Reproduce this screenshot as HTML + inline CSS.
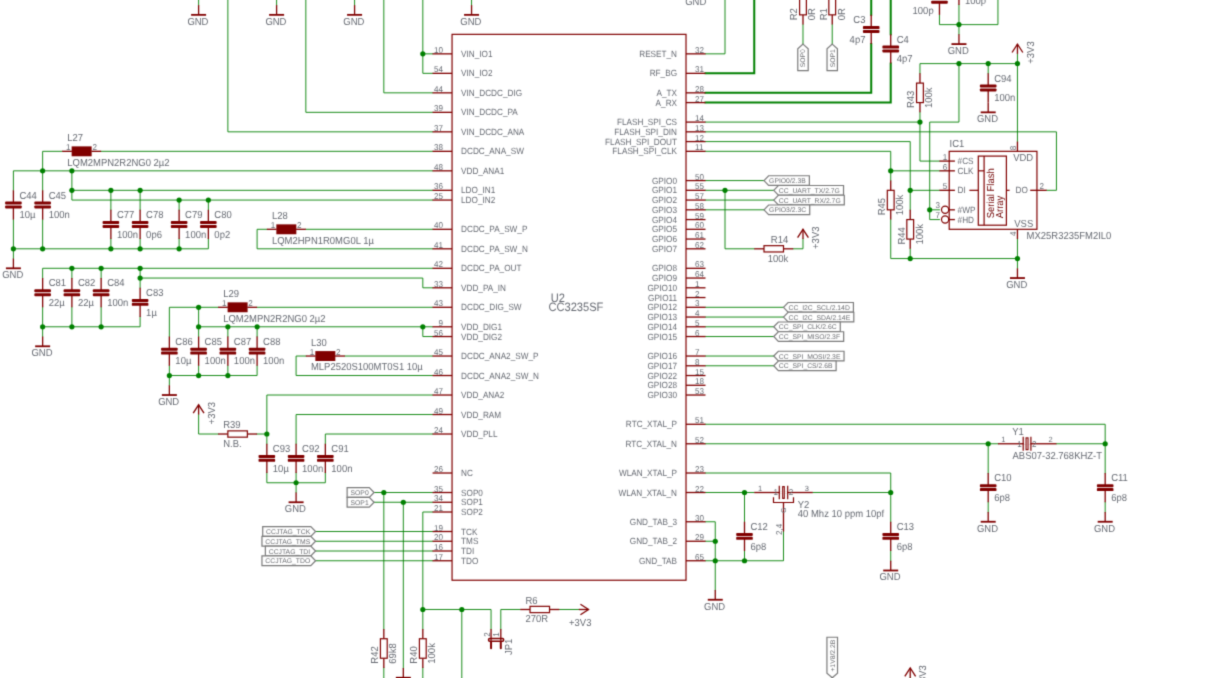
<!DOCTYPE html>
<html><head><meta charset="utf-8"><title>Schematic</title>
<style>
html,body{margin:0;padding:0;background:#fff;}
body{width:1230px;height:678px;overflow:hidden;}
svg{display:block;}
svg text{font-family:"Liberation Sans",sans-serif;text-rendering:geometricPrecision;}
.nl{stroke:#7a7a7a;stroke-width:1.2;fill:#fff;}
</style></head><body>
<svg width="1230" height="678" viewBox="0 0 1230 678">
<defs><filter id="bl" x="0" y="0" width="1230" height="678" filterUnits="userSpaceOnUse" color-interpolation-filters="sRGB"><feConvolveMatrix order="3" kernelMatrix="0.0225 0.1050 0.0225 0.1050 0.4900 0.1050 0.0225 0.1050 0.0225" edgeMode="duplicate"/></filter></defs><rect width="1230" height="678" fill="#fff"/><g filter="url(#bl)">
<g fill="none" stroke="#008000" stroke-linecap="square" stroke-linejoin="miter">
<polyline points="198.61,-14.39 198.61,5.11" stroke-width="0.9"/>
<polyline points="276.6,-14.39 276.6,5.11" stroke-width="0.9"/>
<polyline points="354.58,-14.39 354.58,5.11" stroke-width="0.9"/>
<polyline points="471.56,-14.39 471.56,5.11" stroke-width="0.9"/>
<polyline points="227.86,-14.39 227.86,131.83 432.56,131.83" stroke-width="0.9"/>
<polyline points="305.84,-14.39 305.84,112.34 432.56,112.34" stroke-width="0.9"/>
<polyline points="383.82,-14.39 383.82,92.84 432.56,92.84" stroke-width="0.9"/>
<polyline points="422.82,-14.39 422.82,73.35 432.56,73.35" stroke-width="0.9"/>
<polyline points="422.82,53.85 432.56,53.85" stroke-width="0.9"/>
<polyline points="432.56,151.33 101.13,151.33" stroke-width="0.9"/>
<polyline points="62.14,151.33 42.64,151.33 42.64,190.32" stroke-width="0.9"/>
<polyline points="432.56,170.83 13.4,170.83 13.4,190.32" stroke-width="0.9"/>
<polyline points="13.4,219.57 13.4,258.56" stroke-width="0.9"/>
<polyline points="42.64,219.57 42.64,248.81" stroke-width="0.9"/>
<polyline points="13.4,248.81 208.36,248.81 208.36,239.06" stroke-width="0.9"/>
<polyline points="432.56,190.32 71.89,190.32" stroke-width="0.9"/>
<polyline points="432.56,200.07 71.89,200.07 71.89,170.83" stroke-width="0.9"/>
<polyline points="110.88,190.32 110.88,209.82" stroke-width="0.9"/>
<polyline points="140.12,190.32 140.12,209.82" stroke-width="0.9"/>
<polyline points="179.12,200.07 179.12,209.82" stroke-width="0.9"/>
<polyline points="208.36,200.07 208.36,209.82" stroke-width="0.9"/>
<polyline points="110.88,239.06 110.88,248.81" stroke-width="0.9"/>
<polyline points="140.12,239.06 140.12,248.81" stroke-width="0.9"/>
<polyline points="179.12,239.06 179.12,248.81" stroke-width="0.9"/>
<polyline points="432.56,229.31 305.84,229.31" stroke-width="0.9"/>
<polyline points="266.85,229.31 257.1,229.31 257.1,248.81 432.56,248.81" stroke-width="0.9"/>
<polyline points="432.56,268.31 42.64,268.31 42.64,278.05" stroke-width="0.9"/>
<polyline points="71.89,268.31 71.89,278.05" stroke-width="0.9"/>
<polyline points="101.13,268.31 101.13,278.05" stroke-width="0.9"/>
<polyline points="432.56,287.8 422.82,287.8 422.82,278.05 140.12,278.05" stroke-width="0.9"/>
<polyline points="140.12,268.31 140.12,287.8" stroke-width="0.9"/>
<polyline points="42.64,307.3 42.64,336.54" stroke-width="0.9"/>
<polyline points="71.89,307.3 71.89,326.79" stroke-width="0.9"/>
<polyline points="101.13,307.3 101.13,326.79" stroke-width="0.9"/>
<polyline points="42.64,326.79 140.12,326.79 140.12,317.05" stroke-width="0.9"/>
<polyline points="432.56,307.3 257.1,307.3" stroke-width="0.9"/>
<polyline points="218.11,307.3 169.37,307.3 169.37,336.54" stroke-width="0.9"/>
<polyline points="198.61,307.3 198.61,336.54" stroke-width="0.9"/>
<polyline points="432.56,326.79 198.61,326.79" stroke-width="0.9"/>
<polyline points="227.86,326.79 227.86,336.54" stroke-width="0.9"/>
<polyline points="257.1,326.79 257.1,336.54" stroke-width="0.9"/>
<polyline points="432.56,336.54 422.82,336.54 422.82,326.79" stroke-width="0.9"/>
<polyline points="169.37,365.79 169.37,385.28" stroke-width="0.9"/>
<polyline points="198.61,365.79 198.61,375.53" stroke-width="0.9"/>
<polyline points="227.86,365.79 227.86,375.53" stroke-width="0.9"/>
<polyline points="169.37,375.53 257.1,375.53 257.1,365.79" stroke-width="0.9"/>
<polyline points="432.56,356.04 344.83,356.04" stroke-width="0.9"/>
<polyline points="305.84,356.04 296.09,356.04 296.09,375.53 432.56,375.53" stroke-width="0.9"/>
<polyline points="432.56,395.03 266.85,395.03 266.85,443.77" stroke-width="0.9"/>
<polyline points="432.56,414.53 296.09,414.53 296.09,443.77" stroke-width="0.9"/>
<polyline points="432.56,434.02 325.34,434.02 325.34,443.77" stroke-width="0.9"/>
<polyline points="266.85,473.01 266.85,482.76 325.34,482.76 325.34,473.01" stroke-width="0.9"/>
<polyline points="296.09,473.01 296.09,492.51" stroke-width="0.9"/>
<polyline points="198.61,414.53 198.61,434.02 218.11,434.02" stroke-width="0.9"/>
<polyline points="257.1,434.02 266.85,434.02" stroke-width="0.9"/>
<polyline points="374.08,492.51 432.56,492.51" stroke-width="0.9"/>
<polyline points="374.08,502.26 432.56,502.26" stroke-width="0.9"/>
<polyline points="383.82,492.51 383.82,628.98" stroke-width="0.9"/>
<polyline points="383.82,667.97 383.82,736.21" stroke-width="0.9"/>
<polyline points="403.32,502.26 403.32,667.97" stroke-width="0.9"/>
<polyline points="432.56,512.01 422.82,512.01 422.82,628.98" stroke-width="0.9"/>
<polyline points="422.82,667.97 422.82,736.21" stroke-width="0.9"/>
<polyline points="422.82,609.49 491.05,609.49 491.05,628.98" stroke-width="0.9"/>
<polyline points="461.81,609.49 461.81,736.21" stroke-width="0.9"/>
<polyline points="500.8,628.98 500.8,609.49 520.3,609.49" stroke-width="0.9"/>
<polyline points="559.29,609.49 578.78,609.49" stroke-width="0.9"/>
<polyline points="315.59,531.5 432.56,531.5" stroke-width="0.9"/>
<polyline points="315.59,541.25 432.56,541.25" stroke-width="0.9"/>
<polyline points="315.59,551 432.56,551" stroke-width="0.9"/>
<polyline points="315.59,560.75 432.56,560.75" stroke-width="0.9"/>
<polyline points="705.51,53.85 725,53.85 725,-14.39" stroke-width="0.9"/>
<polyline points="705.51,73.35 754.25,73.35 754.25,-14.39" stroke-width="2"/>
<polyline points="705.51,92.84 871.22,92.84 871.22,44.1" stroke-width="2"/>
<polyline points="871.22,14.86 871.22,-14.39" stroke-width="2"/>
<polyline points="705.51,102.59 890.72,102.59 890.72,63.6" stroke-width="2"/>
<polyline points="890.72,34.35 890.72,-14.39" stroke-width="2"/>
<polyline points="802.99,24.61 802.99,44.1" stroke-width="0.9"/>
<polyline points="832.23,24.61 832.23,44.1" stroke-width="0.9"/>
<polyline points="939.46,14.86 939.46,24.61 997.95,24.61 997.95,-14.39" stroke-width="0.9"/>
<polyline points="958.96,5.11 958.96,34.35" stroke-width="0.9"/>
<polyline points="919.96,73.35 919.96,63.6 1017.44,63.6" stroke-width="0.9"/>
<polyline points="1017.44,53.85 1017.44,63.6" stroke-width="0.9"/>
<polyline points="988.2,63.6 988.2,73.35" stroke-width="0.9"/>
<polyline points="1017.44,63.6 1017.44,141.58" stroke-width="0.9"/>
<polyline points="958.96,63.6 958.96,122.09 929.71,122.09 929.71,219.57 939.46,219.57" stroke-width="0.9"/>
<polyline points="929.71,209.82 939.46,209.82" stroke-width="0.9"/>
<polyline points="705.51,122.09 919.96,122.09" stroke-width="0.9"/>
<polyline points="919.96,112.34 919.96,122.09 919.96,161.08 939.46,161.08" stroke-width="0.9"/>
<polyline points="705.51,131.83 1056.44,131.83 1056.44,190.32 1046.69,190.32" stroke-width="0.9"/>
<polyline points="705.51,141.58 910.22,141.58 910.22,209.82" stroke-width="0.9"/>
<polyline points="910.22,190.32 939.46,190.32" stroke-width="0.9"/>
<polyline points="705.51,151.33 890.72,151.33 890.72,180.57" stroke-width="0.9"/>
<polyline points="890.72,170.83 939.46,170.83" stroke-width="0.9"/>
<polyline points="890.72,219.57 890.72,258.56 1017.44,258.56" stroke-width="0.9"/>
<polyline points="910.22,248.81 910.22,258.56" stroke-width="0.9"/>
<polyline points="1017.44,239.06 1017.44,268.31" stroke-width="0.9"/>
<polyline points="705.51,180.57 764,180.57" stroke-width="0.9"/>
<polyline points="705.51,190.32 773.74,190.32" stroke-width="0.9"/>
<polyline points="705.51,200.07 773.74,200.07" stroke-width="0.9"/>
<polyline points="705.51,209.82 764,209.82" stroke-width="0.9"/>
<polyline points="725,190.32 725,248.81 754.25,248.81" stroke-width="0.9"/>
<polyline points="793.24,248.81 802.99,248.81 802.99,239.06" stroke-width="0.9"/>
<polyline points="705.51,307.3 783.49,307.3" stroke-width="0.9"/>
<polyline points="705.51,317.05 783.49,317.05" stroke-width="0.9"/>
<polyline points="705.51,326.79 773.74,326.79" stroke-width="0.9"/>
<polyline points="705.51,336.54 773.74,336.54" stroke-width="0.9"/>
<polyline points="705.51,356.04 773.74,356.04" stroke-width="0.9"/>
<polyline points="705.51,365.79 773.74,365.79" stroke-width="0.9"/>
<polyline points="705.51,424.27 1105.18,424.27 1105.18,473.01" stroke-width="0.9"/>
<polyline points="1105.18,502.26 1105.18,512.01" stroke-width="0.9"/>
<polyline points="705.51,443.77 997.95,443.77" stroke-width="0.9"/>
<polyline points="988.2,443.77 988.2,473.01" stroke-width="0.9"/>
<polyline points="988.2,502.26 988.2,512.01" stroke-width="0.9"/>
<polyline points="1056.44,443.77 1105.18,443.77" stroke-width="0.9"/>
<polyline points="705.51,473.01 890.72,473.01 890.72,521.75" stroke-width="0.9"/>
<polyline points="890.72,551 890.72,560.75" stroke-width="0.9"/>
<polyline points="705.51,492.51 754.25,492.51" stroke-width="0.9"/>
<polyline points="744.5,492.51 744.5,521.75" stroke-width="0.9"/>
<polyline points="744.5,551 744.5,560.75" stroke-width="0.9"/>
<polyline points="812.74,492.51 890.72,492.51" stroke-width="0.9"/>
<polyline points="783.49,531.5 783.49,560.75 715.26,560.75" stroke-width="0.9"/>
<polyline points="705.51,521.75 715.26,521.75 715.26,589.99" stroke-width="0.9"/>
<polyline points="705.51,541.25 715.26,541.25" stroke-width="0.9"/>
<polyline points="705.51,560.75 715.26,560.75" stroke-width="0.9"/>
<polyline points="832.23,677.72 832.23,736.21" stroke-width="0.9"/>
<polyline points="910.22,677.72 910.22,736.21" stroke-width="0.9"/>
</g>
<g fill="#008000" stroke="none">
<circle cx="422.82" cy="53.85" r="2.6"/>
<circle cx="42.64" cy="170.83" r="2.6"/>
<circle cx="71.89" cy="170.83" r="2.6"/>
<circle cx="13.4" cy="248.81" r="2.6"/>
<circle cx="42.64" cy="248.81" r="2.6"/>
<circle cx="110.88" cy="248.81" r="2.6"/>
<circle cx="140.12" cy="248.81" r="2.6"/>
<circle cx="179.12" cy="248.81" r="2.6"/>
<circle cx="71.89" cy="190.32" r="2.6"/>
<circle cx="110.88" cy="190.32" r="2.6"/>
<circle cx="140.12" cy="190.32" r="2.6"/>
<circle cx="179.12" cy="200.07" r="2.6"/>
<circle cx="208.36" cy="200.07" r="2.6"/>
<circle cx="71.89" cy="268.31" r="2.6"/>
<circle cx="101.13" cy="268.31" r="2.6"/>
<circle cx="140.12" cy="268.31" r="2.6"/>
<circle cx="140.12" cy="278.05" r="2.6"/>
<circle cx="42.64" cy="326.79" r="2.6"/>
<circle cx="71.89" cy="326.79" r="2.6"/>
<circle cx="101.13" cy="326.79" r="2.6"/>
<circle cx="198.61" cy="307.3" r="2.6"/>
<circle cx="198.61" cy="326.79" r="2.6"/>
<circle cx="227.86" cy="326.79" r="2.6"/>
<circle cx="257.1" cy="326.79" r="2.6"/>
<circle cx="422.82" cy="326.79" r="2.6"/>
<circle cx="169.37" cy="375.53" r="2.6"/>
<circle cx="198.61" cy="375.53" r="2.6"/>
<circle cx="227.86" cy="375.53" r="2.6"/>
<circle cx="266.85" cy="434.02" r="2.6"/>
<circle cx="296.09" cy="482.76" r="2.6"/>
<circle cx="383.82" cy="492.51" r="2.6"/>
<circle cx="403.32" cy="502.26" r="2.6"/>
<circle cx="422.82" cy="609.49" r="2.6"/>
<circle cx="461.81" cy="609.49" r="2.6"/>
<circle cx="958.96" cy="24.61" r="2.6"/>
<circle cx="958.96" cy="63.6" r="2.6"/>
<circle cx="988.2" cy="63.6" r="2.6"/>
<circle cx="1017.44" cy="63.6" r="2.6"/>
<circle cx="929.71" cy="209.82" r="2.6"/>
<circle cx="919.96" cy="122.09" r="2.6"/>
<circle cx="910.22" cy="190.32" r="2.6"/>
<circle cx="890.72" cy="170.83" r="2.6"/>
<circle cx="910.22" cy="258.56" r="2.6"/>
<circle cx="1017.44" cy="258.56" r="2.6"/>
<circle cx="725" cy="190.32" r="2.6"/>
<circle cx="988.2" cy="443.77" r="2.6"/>
<circle cx="1105.18" cy="443.77" r="2.6"/>
<circle cx="890.72" cy="492.51" r="2.6"/>
<circle cx="744.5" cy="492.51" r="2.6"/>
<circle cx="744.5" cy="560.75" r="2.6"/>
<circle cx="715.26" cy="560.75" r="2.6"/>
<circle cx="715.26" cy="541.25" r="2.6"/>
</g>
<g stroke="#800000" stroke-width="1.3" stroke-linecap="butt">
<line x1="432.56" y1="53.85" x2="452.06" y2="53.85"/>
<line x1="432.56" y1="73.35" x2="452.06" y2="73.35"/>
<line x1="432.56" y1="92.84" x2="452.06" y2="92.84"/>
<line x1="432.56" y1="112.34" x2="452.06" y2="112.34"/>
<line x1="432.56" y1="131.83" x2="452.06" y2="131.83"/>
<line x1="432.56" y1="151.33" x2="452.06" y2="151.33"/>
<line x1="432.56" y1="170.83" x2="452.06" y2="170.83"/>
<line x1="432.56" y1="190.32" x2="452.06" y2="190.32"/>
<line x1="432.56" y1="200.07" x2="452.06" y2="200.07"/>
<line x1="432.56" y1="229.31" x2="452.06" y2="229.31"/>
<line x1="432.56" y1="248.81" x2="452.06" y2="248.81"/>
<line x1="432.56" y1="268.31" x2="452.06" y2="268.31"/>
<line x1="432.56" y1="287.8" x2="452.06" y2="287.8"/>
<line x1="432.56" y1="307.3" x2="452.06" y2="307.3"/>
<line x1="432.56" y1="326.79" x2="452.06" y2="326.79"/>
<line x1="432.56" y1="336.54" x2="452.06" y2="336.54"/>
<line x1="432.56" y1="356.04" x2="452.06" y2="356.04"/>
<line x1="432.56" y1="375.53" x2="452.06" y2="375.53"/>
<line x1="432.56" y1="395.03" x2="452.06" y2="395.03"/>
<line x1="432.56" y1="414.53" x2="452.06" y2="414.53"/>
<line x1="432.56" y1="434.02" x2="452.06" y2="434.02"/>
<line x1="432.56" y1="473.01" x2="452.06" y2="473.01"/>
<line x1="432.56" y1="492.51" x2="452.06" y2="492.51"/>
<line x1="432.56" y1="502.26" x2="452.06" y2="502.26"/>
<line x1="432.56" y1="512.01" x2="452.06" y2="512.01"/>
<line x1="432.56" y1="531.5" x2="452.06" y2="531.5"/>
<line x1="432.56" y1="541.25" x2="452.06" y2="541.25"/>
<line x1="432.56" y1="551" x2="452.06" y2="551"/>
<line x1="432.56" y1="560.75" x2="452.06" y2="560.75"/>
<line x1="686.01" y1="53.85" x2="705.51" y2="53.85"/>
<line x1="686.01" y1="73.35" x2="705.51" y2="73.35"/>
<line x1="686.01" y1="92.84" x2="705.51" y2="92.84"/>
<line x1="686.01" y1="102.59" x2="705.51" y2="102.59"/>
<line x1="686.01" y1="122.09" x2="705.51" y2="122.09"/>
<line x1="686.01" y1="131.83" x2="705.51" y2="131.83"/>
<line x1="686.01" y1="141.58" x2="705.51" y2="141.58"/>
<line x1="686.01" y1="151.33" x2="705.51" y2="151.33"/>
<line x1="686.01" y1="180.57" x2="705.51" y2="180.57"/>
<line x1="686.01" y1="190.32" x2="705.51" y2="190.32"/>
<line x1="686.01" y1="200.07" x2="705.51" y2="200.07"/>
<line x1="686.01" y1="209.82" x2="705.51" y2="209.82"/>
<line x1="686.01" y1="219.57" x2="705.51" y2="219.57"/>
<line x1="686.01" y1="229.31" x2="705.51" y2="229.31"/>
<line x1="686.01" y1="239.06" x2="705.51" y2="239.06"/>
<line x1="686.01" y1="248.81" x2="705.51" y2="248.81"/>
<line x1="686.01" y1="268.31" x2="705.51" y2="268.31"/>
<line x1="686.01" y1="278.05" x2="705.51" y2="278.05"/>
<line x1="686.01" y1="287.8" x2="705.51" y2="287.8"/>
<line x1="686.01" y1="297.55" x2="705.51" y2="297.55"/>
<line x1="686.01" y1="307.3" x2="705.51" y2="307.3"/>
<line x1="686.01" y1="317.05" x2="705.51" y2="317.05"/>
<line x1="686.01" y1="326.79" x2="705.51" y2="326.79"/>
<line x1="686.01" y1="336.54" x2="705.51" y2="336.54"/>
<line x1="686.01" y1="356.04" x2="705.51" y2="356.04"/>
<line x1="686.01" y1="365.79" x2="705.51" y2="365.79"/>
<line x1="686.01" y1="375.53" x2="705.51" y2="375.53"/>
<line x1="686.01" y1="385.28" x2="705.51" y2="385.28"/>
<line x1="686.01" y1="395.03" x2="705.51" y2="395.03"/>
<line x1="686.01" y1="424.27" x2="705.51" y2="424.27"/>
<line x1="686.01" y1="443.77" x2="705.51" y2="443.77"/>
<line x1="686.01" y1="473.01" x2="705.51" y2="473.01"/>
<line x1="686.01" y1="492.51" x2="705.51" y2="492.51"/>
<line x1="686.01" y1="521.75" x2="705.51" y2="521.75"/>
<line x1="686.01" y1="541.25" x2="705.51" y2="541.25"/>
<line x1="686.01" y1="560.75" x2="705.51" y2="560.75"/>
<line x1="198.61" y1="5.11" x2="198.61" y2="14.86"/>
<line x1="276.6" y1="5.11" x2="276.6" y2="14.86"/>
<line x1="354.58" y1="5.11" x2="354.58" y2="14.86"/>
<line x1="471.56" y1="5.11" x2="471.56" y2="14.86"/>
<line x1="62.14" y1="151.33" x2="71.89" y2="151.33"/>
<line x1="91.38" y1="151.33" x2="101.13" y2="151.33"/>
<line x1="13.4" y1="190.32" x2="13.4" y2="202.99"/>
<line x1="13.4" y1="206.89" x2="13.4" y2="219.57"/>
<line x1="42.64" y1="190.32" x2="42.64" y2="202.99"/>
<line x1="42.64" y1="206.89" x2="42.64" y2="219.57"/>
<line x1="13.4" y1="258.56" x2="13.4" y2="268.31"/>
<line x1="110.88" y1="209.82" x2="110.88" y2="222.49"/>
<line x1="110.88" y1="226.39" x2="110.88" y2="239.06"/>
<line x1="140.12" y1="209.82" x2="140.12" y2="222.49"/>
<line x1="140.12" y1="226.39" x2="140.12" y2="239.06"/>
<line x1="179.12" y1="209.82" x2="179.12" y2="222.49"/>
<line x1="179.12" y1="226.39" x2="179.12" y2="239.06"/>
<line x1="208.36" y1="209.82" x2="208.36" y2="222.49"/>
<line x1="208.36" y1="226.39" x2="208.36" y2="239.06"/>
<line x1="266.85" y1="229.31" x2="276.6" y2="229.31"/>
<line x1="296.09" y1="229.31" x2="305.84" y2="229.31"/>
<line x1="42.64" y1="278.05" x2="42.64" y2="290.73"/>
<line x1="42.64" y1="294.63" x2="42.64" y2="307.3"/>
<line x1="71.89" y1="278.05" x2="71.89" y2="290.73"/>
<line x1="71.89" y1="294.63" x2="71.89" y2="307.3"/>
<line x1="101.13" y1="278.05" x2="101.13" y2="290.73"/>
<line x1="101.13" y1="294.63" x2="101.13" y2="307.3"/>
<line x1="140.12" y1="287.8" x2="140.12" y2="300.47"/>
<line x1="140.12" y1="304.37" x2="140.12" y2="317.05"/>
<line x1="42.64" y1="336.54" x2="42.64" y2="346.29"/>
<line x1="218.11" y1="307.3" x2="227.86" y2="307.3"/>
<line x1="247.35" y1="307.3" x2="257.1" y2="307.3"/>
<line x1="169.37" y1="336.54" x2="169.37" y2="349.21"/>
<line x1="169.37" y1="353.11" x2="169.37" y2="365.79"/>
<line x1="198.61" y1="336.54" x2="198.61" y2="349.21"/>
<line x1="198.61" y1="353.11" x2="198.61" y2="365.79"/>
<line x1="227.86" y1="336.54" x2="227.86" y2="349.21"/>
<line x1="227.86" y1="353.11" x2="227.86" y2="365.79"/>
<line x1="257.1" y1="336.54" x2="257.1" y2="349.21"/>
<line x1="257.1" y1="353.11" x2="257.1" y2="365.79"/>
<line x1="169.37" y1="385.28" x2="169.37" y2="395.03"/>
<line x1="305.84" y1="356.04" x2="315.59" y2="356.04"/>
<line x1="335.08" y1="356.04" x2="344.83" y2="356.04"/>
<line x1="266.85" y1="443.77" x2="266.85" y2="456.44"/>
<line x1="266.85" y1="460.34" x2="266.85" y2="473.01"/>
<line x1="296.09" y1="443.77" x2="296.09" y2="456.44"/>
<line x1="296.09" y1="460.34" x2="296.09" y2="473.01"/>
<line x1="325.34" y1="443.77" x2="325.34" y2="456.44"/>
<line x1="325.34" y1="460.34" x2="325.34" y2="473.01"/>
<line x1="296.09" y1="492.51" x2="296.09" y2="502.26"/>
<line x1="218.11" y1="434.02" x2="227.86" y2="434.02"/>
<line x1="247.35" y1="434.02" x2="257.1" y2="434.02"/>
<line x1="198.61" y1="404.78" x2="198.61" y2="414.53"/>
<line x1="383.82" y1="628.98" x2="383.82" y2="638.73"/>
<line x1="383.82" y1="658.23" x2="383.82" y2="667.97"/>
<line x1="403.32" y1="667.97" x2="403.32" y2="677.72"/>
<line x1="422.82" y1="628.98" x2="422.82" y2="638.73"/>
<line x1="422.82" y1="658.23" x2="422.82" y2="667.97"/>
<line x1="520.3" y1="609.49" x2="530.04" y2="609.49"/>
<line x1="549.54" y1="609.49" x2="559.29" y2="609.49"/>
<line x1="578.78" y1="609.49" x2="588.53" y2="609.49"/>
<line x1="491.05" y1="628.98" x2="491.05" y2="640.68"/>
<line x1="500.8" y1="628.98" x2="500.8" y2="640.68"/>
<line x1="871.22" y1="14.86" x2="871.22" y2="27.53"/>
<line x1="871.22" y1="31.43" x2="871.22" y2="44.1"/>
<line x1="890.72" y1="34.35" x2="890.72" y2="47.03"/>
<line x1="890.72" y1="50.93" x2="890.72" y2="63.6"/>
<line x1="802.99" y1="-14.39" x2="802.99" y2="-4.64"/>
<line x1="802.99" y1="14.86" x2="802.99" y2="24.61"/>
<line x1="832.23" y1="-14.39" x2="832.23" y2="-4.64"/>
<line x1="832.23" y1="14.86" x2="832.23" y2="24.61"/>
<line x1="939.46" y1="-14.39" x2="939.46" y2="-1.71"/>
<line x1="939.46" y1="2.19" x2="939.46" y2="14.86"/>
<line x1="958.96" y1="-24.13" x2="958.96" y2="-11.46"/>
<line x1="958.96" y1="-7.56" x2="958.96" y2="5.11"/>
<line x1="958.96" y1="34.35" x2="958.96" y2="44.1"/>
<line x1="919.96" y1="73.35" x2="919.96" y2="83.09"/>
<line x1="919.96" y1="102.59" x2="919.96" y2="112.34"/>
<line x1="1017.44" y1="44.1" x2="1017.44" y2="53.85"/>
<line x1="988.2" y1="73.35" x2="988.2" y2="86.02"/>
<line x1="988.2" y1="89.92" x2="988.2" y2="102.59"/>
<line x1="988.2" y1="102.59" x2="988.2" y2="112.34"/>
<line x1="890.72" y1="180.57" x2="890.72" y2="190.32"/>
<line x1="890.72" y1="209.82" x2="890.72" y2="219.57"/>
<line x1="910.22" y1="209.82" x2="910.22" y2="219.57"/>
<line x1="910.22" y1="239.06" x2="910.22" y2="248.81"/>
<line x1="1017.44" y1="268.31" x2="1017.44" y2="278.05"/>
<line x1="939.46" y1="161.08" x2="954.9" y2="161.08"/>
<line x1="939.46" y1="170.83" x2="954.9" y2="170.83"/>
<line x1="939.46" y1="190.32" x2="954.9" y2="190.32"/>
<line x1="948.9" y1="209.82" x2="954.9" y2="209.82"/>
<line x1="948.9" y1="219.57" x2="954.9" y2="219.57"/>
<line x1="1030.2" y1="190.32" x2="1046.69" y2="190.32"/>
<line x1="1017.44" y1="141.58" x2="1017.44" y2="151.33"/>
<line x1="1017.44" y1="229.31" x2="1017.44" y2="239.06"/>
<line x1="754.25" y1="248.81" x2="764" y2="248.81"/>
<line x1="783.49" y1="248.81" x2="793.24" y2="248.81"/>
<line x1="802.99" y1="229.31" x2="802.99" y2="239.06"/>
<line x1="1105.18" y1="473.01" x2="1105.18" y2="485.69"/>
<line x1="1105.18" y1="489.59" x2="1105.18" y2="502.26"/>
<line x1="1105.18" y1="512.01" x2="1105.18" y2="521.75"/>
<line x1="988.2" y1="473.01" x2="988.2" y2="485.69"/>
<line x1="988.2" y1="489.59" x2="988.2" y2="502.26"/>
<line x1="988.2" y1="512.01" x2="988.2" y2="521.75"/>
<line x1="997.95" y1="443.77" x2="1027.19" y2="443.77"/>
<line x1="1027.19" y1="443.77" x2="1056.44" y2="443.77"/>
<line x1="1023.75" y1="443.77" x2="1030.35" y2="443.77" stroke="#fff" stroke-width="2"/>
<line x1="890.72" y1="521.75" x2="890.72" y2="534.43"/>
<line x1="890.72" y1="538.33" x2="890.72" y2="551"/>
<line x1="890.72" y1="560.75" x2="890.72" y2="570.49"/>
<line x1="744.5" y1="521.75" x2="744.5" y2="534.43"/>
<line x1="744.5" y1="538.33" x2="744.5" y2="551"/>
<line x1="754.25" y1="492.51" x2="783.49" y2="492.51"/>
<line x1="783.49" y1="492.51" x2="812.74" y2="492.51"/>
<line x1="779.89" y1="492.51" x2="787.09" y2="492.51" stroke="#fff" stroke-width="2"/>
<line x1="783.49" y1="502.51" x2="783.49" y2="531.5"/>
<line x1="715.26" y1="589.99" x2="715.26" y2="599.74"/>
<line x1="910.22" y1="667.97" x2="910.22" y2="677.72"/>
</g>
<g stroke="#800000" fill="none">
<rect x="452.06" y="34.35" width="233.95" height="545.89" fill="none" stroke-width="1.2"/>
<line x1="191.11" y1="14.86" x2="206.11" y2="14.86" stroke-width="1.8"/>
<line x1="269.1" y1="14.86" x2="284.1" y2="14.86" stroke-width="1.8"/>
<line x1="347.08" y1="14.86" x2="362.08" y2="14.86" stroke-width="1.8"/>
<line x1="464.06" y1="14.86" x2="479.06" y2="14.86" stroke-width="1.8"/>
<rect x="71.64" y="146.38" width="20" height="9.9" fill="#800000" stroke="none"/>
<rect x="5.1" y="201.49" width="16.6" height="3.0" rx="0.9" fill="#800000" stroke="none"/>
<rect x="5.1" y="205.39" width="16.6" height="3.0" rx="0.9" fill="#800000" stroke="none"/>
<rect x="34.34" y="201.49" width="16.6" height="3.0" rx="0.9" fill="#800000" stroke="none"/>
<rect x="34.34" y="205.39" width="16.6" height="3.0" rx="0.9" fill="#800000" stroke="none"/>
<line x1="5.9" y1="268.31" x2="20.9" y2="268.31" stroke-width="1.8"/>
<rect x="102.58" y="220.99" width="16.6" height="3.0" rx="0.9" fill="#800000" stroke="none"/>
<rect x="102.58" y="224.89" width="16.6" height="3.0" rx="0.9" fill="#800000" stroke="none"/>
<rect x="131.82" y="220.99" width="16.6" height="3.0" rx="0.9" fill="#800000" stroke="none"/>
<rect x="131.82" y="224.89" width="16.6" height="3.0" rx="0.9" fill="#800000" stroke="none"/>
<rect x="170.82" y="220.99" width="16.6" height="3.0" rx="0.9" fill="#800000" stroke="none"/>
<rect x="170.82" y="224.89" width="16.6" height="3.0" rx="0.9" fill="#800000" stroke="none"/>
<rect x="200.06" y="220.99" width="16.6" height="3.0" rx="0.9" fill="#800000" stroke="none"/>
<rect x="200.06" y="224.89" width="16.6" height="3.0" rx="0.9" fill="#800000" stroke="none"/>
<rect x="276.34" y="224.36" width="20" height="9.9" fill="#800000" stroke="none"/>
<rect x="34.34" y="289.23" width="16.6" height="3.0" rx="0.9" fill="#800000" stroke="none"/>
<rect x="34.34" y="293.13" width="16.6" height="3.0" rx="0.9" fill="#800000" stroke="none"/>
<rect x="63.59" y="289.23" width="16.6" height="3.0" rx="0.9" fill="#800000" stroke="none"/>
<rect x="63.59" y="293.13" width="16.6" height="3.0" rx="0.9" fill="#800000" stroke="none"/>
<rect x="92.83" y="289.23" width="16.6" height="3.0" rx="0.9" fill="#800000" stroke="none"/>
<rect x="92.83" y="293.13" width="16.6" height="3.0" rx="0.9" fill="#800000" stroke="none"/>
<rect x="131.82" y="298.97" width="16.6" height="3.0" rx="0.9" fill="#800000" stroke="none"/>
<rect x="131.82" y="302.87" width="16.6" height="3.0" rx="0.9" fill="#800000" stroke="none"/>
<line x1="35.14" y1="346.29" x2="50.14" y2="346.29" stroke-width="1.8"/>
<rect x="227.6" y="302.35" width="20" height="9.9" fill="#800000" stroke="none"/>
<rect x="161.07" y="347.71" width="16.6" height="3.0" rx="0.9" fill="#800000" stroke="none"/>
<rect x="161.07" y="351.61" width="16.6" height="3.0" rx="0.9" fill="#800000" stroke="none"/>
<rect x="190.31" y="347.71" width="16.6" height="3.0" rx="0.9" fill="#800000" stroke="none"/>
<rect x="190.31" y="351.61" width="16.6" height="3.0" rx="0.9" fill="#800000" stroke="none"/>
<rect x="219.56" y="347.71" width="16.6" height="3.0" rx="0.9" fill="#800000" stroke="none"/>
<rect x="219.56" y="351.61" width="16.6" height="3.0" rx="0.9" fill="#800000" stroke="none"/>
<rect x="248.8" y="347.71" width="16.6" height="3.0" rx="0.9" fill="#800000" stroke="none"/>
<rect x="248.8" y="351.61" width="16.6" height="3.0" rx="0.9" fill="#800000" stroke="none"/>
<line x1="161.87" y1="395.03" x2="176.87" y2="395.03" stroke-width="1.8"/>
<rect x="315.34" y="351.09" width="20" height="9.9" fill="#800000" stroke="none"/>
<rect x="258.55" y="454.94" width="16.6" height="3.0" rx="0.9" fill="#800000" stroke="none"/>
<rect x="258.55" y="458.84" width="16.6" height="3.0" rx="0.9" fill="#800000" stroke="none"/>
<rect x="287.79" y="454.94" width="16.6" height="3.0" rx="0.9" fill="#800000" stroke="none"/>
<rect x="287.79" y="458.84" width="16.6" height="3.0" rx="0.9" fill="#800000" stroke="none"/>
<rect x="317.04" y="454.94" width="16.6" height="3.0" rx="0.9" fill="#800000" stroke="none"/>
<rect x="317.04" y="458.84" width="16.6" height="3.0" rx="0.9" fill="#800000" stroke="none"/>
<line x1="288.59" y1="502.26" x2="303.59" y2="502.26" stroke-width="1.8"/>
<rect x="227.86" y="430.87" width="19.5" height="6.3" fill="#fff" stroke-width="1.2"/>
<polyline points="193.21,413.18 198.61,404.78 204.01,413.18" fill="none" stroke-width="1.3"/>
<polygon class="nl" points="347.13,487.61 369.28,487.61 374.08,492.51 369.28,497.41 347.13,497.41"/>
<polygon class="nl" points="347.13,497.36 369.28,497.36 374.08,502.26 369.28,507.16 347.13,507.16"/>
<rect x="380.42" y="638.73" width="6.8" height="19.5" fill="#fff" stroke-width="1.2"/>
<line x1="395.82" y1="677.72" x2="410.82" y2="677.72" stroke-width="1.8"/>
<rect x="419.42" y="638.73" width="6.8" height="19.5" fill="#fff" stroke-width="1.2"/>
<rect x="530.04" y="606.34" width="19.5" height="6.3" fill="#fff" stroke-width="1.2"/>
<polyline points="580.43,604.29 588.53,609.49 580.43,614.69" fill="none" stroke-width="1.3"/>
<polygon class="nl" points="262.71,526.6 310.79,526.6 315.59,531.5 310.79,536.4 262.71,536.4"/>
<polygon class="nl" points="261.96,536.35 310.79,536.35 315.59,541.25 310.79,546.15 261.96,546.15"/>
<polygon class="nl" points="265.36,546.1 310.79,546.1 315.59,551 310.79,555.9 265.36,555.9"/>
<polygon class="nl" points="261.96,555.85 310.79,555.85 315.59,560.75 310.79,565.65 261.96,565.65"/>
<rect x="488.6" y="638.6" width="15" height="2.7" rx="1" fill="none" stroke-width="1.5"/>
<line x1="491.05" y1="641.8" x2="491.05" y2="648.2" stroke-width="2" stroke-linecap="round"/>
<line x1="500.8" y1="641.8" x2="500.8" y2="648.2" stroke-width="2" stroke-linecap="round"/>
<rect x="862.92" y="26.03" width="16.6" height="3.0" rx="0.9" fill="#800000" stroke="none"/>
<rect x="862.92" y="29.93" width="16.6" height="3.0" rx="0.9" fill="#800000" stroke="none"/>
<rect x="882.42" y="45.53" width="16.6" height="3.0" rx="0.9" fill="#800000" stroke="none"/>
<rect x="882.42" y="49.43" width="16.6" height="3.0" rx="0.9" fill="#800000" stroke="none"/>
<rect x="799.59" y="-4.64" width="6.8" height="19.5" fill="#fff" stroke-width="1.2"/>
<rect x="828.83" y="-4.64" width="6.8" height="19.5" fill="#fff" stroke-width="1.2"/>
<polygon class="nl" points="802.99,44.1 808.19,48.7 808.19,70.54 797.79,70.54 797.79,48.7"/>
<polygon class="nl" points="832.23,44.1 837.43,48.7 837.43,70.54 827.03,70.54 827.03,48.7"/>
<rect x="931.16" y="-3.21" width="16.6" height="3.0" rx="0.9" fill="#800000" stroke="none"/>
<rect x="931.16" y="0.69" width="16.6" height="3.0" rx="0.9" fill="#800000" stroke="none"/>
<rect x="950.66" y="-12.96" width="16.6" height="3.0" rx="0.9" fill="#800000" stroke="none"/>
<rect x="950.66" y="-9.06" width="16.6" height="3.0" rx="0.9" fill="#800000" stroke="none"/>
<line x1="951.46" y1="44.1" x2="966.46" y2="44.1" stroke-width="1.8"/>
<rect x="916.56" y="83.09" width="6.8" height="19.5" fill="#fff" stroke-width="1.2"/>
<polyline points="1012.04,52.5 1017.44,44.1 1022.84,52.5" fill="none" stroke-width="1.3"/>
<rect x="979.9" y="84.52" width="16.6" height="3.0" rx="0.9" fill="#800000" stroke="none"/>
<rect x="979.9" y="88.42" width="16.6" height="3.0" rx="0.9" fill="#800000" stroke="none"/>
<line x1="980.7" y1="112.34" x2="995.7" y2="112.34" stroke-width="1.8"/>
<rect x="887.32" y="190.32" width="6.8" height="19.5" fill="#fff" stroke-width="1.2"/>
<rect x="906.82" y="219.57" width="6.8" height="19.5" fill="#fff" stroke-width="1.2"/>
<line x1="1009.94" y1="278.05" x2="1024.94" y2="278.05" stroke-width="1.8"/>
<rect x="949.21" y="151.33" width="87.73" height="77.98" fill="none" stroke-width="1.2"/>
<rect x="978.3" y="156.1" width="28.1" height="69.1" fill="none" stroke-width="1.2"/>
<line x1="984.1" y1="156.1" x2="984.1" y2="225.2" stroke-width="1.2"/>
<line x1="978.3" y1="170.83" x2="984.1" y2="170.83" stroke-width="1.2"/>
<line x1="969.4" y1="190.32" x2="978.3" y2="190.32" stroke-width="1.2"/>
<line x1="1006.4" y1="190.32" x2="1009.6" y2="190.32" stroke-width="1.2"/>
<circle cx="945.1" cy="209.82" r="3.6" fill="#fff" stroke-width="1.2"/>
<circle cx="945.1" cy="219.57" r="3.6" fill="#fff" stroke-width="1.2"/>
<polygon class="nl" points="764,180.57 768.6,175.77 809.36,175.77 809.36,185.37 768.6,185.37"/>
<polygon class="nl" points="773.74,190.32 778.34,185.52 843.54,185.52 843.54,195.12 778.34,195.12"/>
<polygon class="nl" points="773.74,200.07 778.34,195.27 844.29,195.27 844.29,204.87 778.34,204.87"/>
<polygon class="nl" points="764,209.82 768.6,205.02 809.73,205.02 809.73,214.62 768.6,214.62"/>
<rect x="764" y="245.66" width="19.5" height="6.3" fill="#fff" stroke-width="1.2"/>
<polyline points="797.59,237.71 802.99,229.31 808.39,237.71" fill="none" stroke-width="1.3"/>
<polygon class="nl" points="783.49,307.3 788.09,302.5 853.42,302.5 853.42,312.1 788.09,312.1"/>
<polygon class="nl" points="783.49,317.05 788.09,312.25 853.8,312.25 853.8,321.85 788.09,321.85"/>
<polygon class="nl" points="773.74,326.79 778.34,321.99 840.27,321.99 840.27,331.59 778.34,331.59"/>
<polygon class="nl" points="773.74,336.54 778.34,331.74 843.66,331.74 843.66,341.34 778.34,341.34"/>
<polygon class="nl" points="773.74,356.04 778.34,351.24 844.04,351.24 844.04,360.84 778.34,360.84"/>
<polygon class="nl" points="773.74,365.79 778.34,360.99 836.11,360.99 836.11,370.59 778.34,370.59"/>
<rect x="1096.88" y="484.19" width="16.6" height="3.0" rx="0.9" fill="#800000" stroke="none"/>
<rect x="1096.88" y="488.09" width="16.6" height="3.0" rx="0.9" fill="#800000" stroke="none"/>
<line x1="1097.68" y1="521.75" x2="1112.68" y2="521.75" stroke-width="1.8"/>
<rect x="979.9" y="484.19" width="16.6" height="3.0" rx="0.9" fill="#800000" stroke="none"/>
<rect x="979.9" y="488.09" width="16.6" height="3.0" rx="0.9" fill="#800000" stroke="none"/>
<line x1="980.7" y1="521.75" x2="995.7" y2="521.75" stroke-width="1.8"/>
<rect x="1026.05" y="437.87" width="2" height="11.8" fill="#fff" stroke-width="1.1"/>
<line x1="1023.2" y1="436.77" x2="1023.2" y2="450.77" stroke-width="1.2"/>
<line x1="1030.9" y1="436.77" x2="1030.9" y2="450.77" stroke-width="1.2"/>
<rect x="882.42" y="532.93" width="16.6" height="3.0" rx="0.9" fill="#800000" stroke="none"/>
<rect x="882.42" y="536.83" width="16.6" height="3.0" rx="0.9" fill="#800000" stroke="none"/>
<line x1="883.22" y1="570.49" x2="898.22" y2="570.49" stroke-width="1.8"/>
<rect x="736.2" y="532.93" width="16.6" height="3.0" rx="0.9" fill="#800000" stroke="none"/>
<rect x="736.2" y="536.83" width="16.6" height="3.0" rx="0.9" fill="#800000" stroke="none"/>
<rect x="782.69" y="486.61" width="1.6" height="11.8" fill="#fff" stroke-width="1.1"/>
<line x1="779.29" y1="485.71" x2="779.29" y2="499.21" stroke-width="1.2"/>
<line x1="787.69" y1="485.71" x2="787.69" y2="499.21" stroke-width="1.2"/>
<polyline points="773.49,497.21 773.49,502.51 793.49,502.51 793.49,497.21" fill="none" stroke-width="1.2"/>
<line x1="707.76" y1="599.74" x2="722.76" y2="599.74" stroke-width="1.8"/>
<polygon class="nl" points="832.23,677.72 837.53,673.12 837.53,637.27 826.93,637.27 826.93,673.12"/>
<polyline points="904.82,676.37 910.22,667.97 915.62,676.37" fill="none" stroke-width="1.3"/>
</g>
<g fill="#666a72" font-family="Liberation Sans, sans-serif">
<text transform="translate(443.06,52.85) scale(0.95,1)" font-size="8.5" text-anchor="end">10</text>
<text transform="translate(461.06,56.95) scale(0.91,1)" font-size="9">VIN_IO1</text>
<text transform="translate(443.06,72.35) scale(0.95,1)" font-size="8.5" text-anchor="end">54</text>
<text transform="translate(461.06,76.45) scale(0.91,1)" font-size="9">VIN_IO2</text>
<text transform="translate(443.06,91.84) scale(0.95,1)" font-size="8.5" text-anchor="end">44</text>
<text transform="translate(461.06,95.94) scale(0.91,1)" font-size="9">VIN_DCDC_DIG</text>
<text transform="translate(443.06,111.34) scale(0.95,1)" font-size="8.5" text-anchor="end">39</text>
<text transform="translate(461.06,115.44) scale(0.91,1)" font-size="9">VIN_DCDC_PA</text>
<text transform="translate(443.06,130.83) scale(0.95,1)" font-size="8.5" text-anchor="end">37</text>
<text transform="translate(461.06,134.93) scale(0.91,1)" font-size="9">VIN_DCDC_ANA</text>
<text transform="translate(443.06,150.33) scale(0.95,1)" font-size="8.5" text-anchor="end">38</text>
<text transform="translate(461.06,154.43) scale(0.91,1)" font-size="9">DCDC_ANA_SW</text>
<text transform="translate(443.06,169.83) scale(0.95,1)" font-size="8.5" text-anchor="end">48</text>
<text transform="translate(461.06,173.93) scale(0.91,1)" font-size="9">VDD_ANA1</text>
<text transform="translate(443.06,189.32) scale(0.95,1)" font-size="8.5" text-anchor="end">36</text>
<text transform="translate(461.06,193.42) scale(0.91,1)" font-size="9">LDO_IN1</text>
<text transform="translate(443.06,199.07) scale(0.95,1)" font-size="8.5" text-anchor="end">25</text>
<text transform="translate(461.06,203.17) scale(0.91,1)" font-size="9">LDO_IN2</text>
<text transform="translate(443.06,228.31) scale(0.95,1)" font-size="8.5" text-anchor="end">40</text>
<text transform="translate(461.06,232.41) scale(0.91,1)" font-size="9">DCDC_PA_SW_P</text>
<text transform="translate(443.06,247.81) scale(0.95,1)" font-size="8.5" text-anchor="end">41</text>
<text transform="translate(461.06,251.91) scale(0.91,1)" font-size="9">DCDC_PA_SW_N</text>
<text transform="translate(443.06,267.31) scale(0.95,1)" font-size="8.5" text-anchor="end">42</text>
<text transform="translate(461.06,271.41) scale(0.91,1)" font-size="9">DCDC_PA_OUT</text>
<text transform="translate(443.06,286.8) scale(0.95,1)" font-size="8.5" text-anchor="end">33</text>
<text transform="translate(461.06,290.9) scale(0.91,1)" font-size="9">VDD_PA_IN</text>
<text transform="translate(443.06,306.3) scale(0.95,1)" font-size="8.5" text-anchor="end">43</text>
<text transform="translate(461.06,310.4) scale(0.91,1)" font-size="9">DCDC_DIG_SW</text>
<text transform="translate(443.06,325.79) scale(0.95,1)" font-size="8.5" text-anchor="end">9</text>
<text transform="translate(461.06,329.89) scale(0.91,1)" font-size="9">VDD_DIG1</text>
<text transform="translate(443.06,335.54) scale(0.95,1)" font-size="8.5" text-anchor="end">56</text>
<text transform="translate(461.06,339.64) scale(0.91,1)" font-size="9">VDD_DIG2</text>
<text transform="translate(443.06,355.04) scale(0.95,1)" font-size="8.5" text-anchor="end">45</text>
<text transform="translate(461.06,359.14) scale(0.91,1)" font-size="9">DCDC_ANA2_SW_P</text>
<text transform="translate(443.06,374.53) scale(0.95,1)" font-size="8.5" text-anchor="end">46</text>
<text transform="translate(461.06,378.63) scale(0.91,1)" font-size="9">DCDC_ANA2_SW_N</text>
<text transform="translate(443.06,394.03) scale(0.95,1)" font-size="8.5" text-anchor="end">47</text>
<text transform="translate(461.06,398.13) scale(0.91,1)" font-size="9">VDD_ANA2</text>
<text transform="translate(443.06,413.53) scale(0.95,1)" font-size="8.5" text-anchor="end">49</text>
<text transform="translate(461.06,417.63) scale(0.91,1)" font-size="9">VDD_RAM</text>
<text transform="translate(443.06,433.02) scale(0.95,1)" font-size="8.5" text-anchor="end">24</text>
<text transform="translate(461.06,437.12) scale(0.91,1)" font-size="9">VDD_PLL</text>
<text transform="translate(443.06,472.01) scale(0.95,1)" font-size="8.5" text-anchor="end">26</text>
<text transform="translate(461.06,476.11) scale(0.91,1)" font-size="9">NC</text>
<text transform="translate(443.06,491.51) scale(0.95,1)" font-size="8.5" text-anchor="end">35</text>
<text transform="translate(461.06,495.61) scale(0.91,1)" font-size="9">SOP0</text>
<text transform="translate(443.06,501.26) scale(0.95,1)" font-size="8.5" text-anchor="end">34</text>
<text transform="translate(461.06,505.36) scale(0.91,1)" font-size="9">SOP1</text>
<text transform="translate(443.06,511.01) scale(0.95,1)" font-size="8.5" text-anchor="end">21</text>
<text transform="translate(461.06,515.11) scale(0.91,1)" font-size="9">SOP2</text>
<text transform="translate(443.06,530.5) scale(0.95,1)" font-size="8.5" text-anchor="end">19</text>
<text transform="translate(461.06,534.6) scale(0.91,1)" font-size="9">TCK</text>
<text transform="translate(443.06,540.25) scale(0.95,1)" font-size="8.5" text-anchor="end">20</text>
<text transform="translate(461.06,544.35) scale(0.91,1)" font-size="9">TMS</text>
<text transform="translate(443.06,550) scale(0.95,1)" font-size="8.5" text-anchor="end">16</text>
<text transform="translate(461.06,554.1) scale(0.91,1)" font-size="9">TDI</text>
<text transform="translate(443.06,559.75) scale(0.95,1)" font-size="8.5" text-anchor="end">17</text>
<text transform="translate(461.06,563.85) scale(0.91,1)" font-size="9">TDO</text>
<text transform="translate(695.01,52.85) scale(0.95,1)" font-size="8.5">32</text>
<text transform="translate(677.01,56.95) scale(0.91,1)" font-size="9" text-anchor="end">RESET_N</text>
<text transform="translate(695.01,72.35) scale(0.95,1)" font-size="8.5">31</text>
<text transform="translate(677.01,76.45) scale(0.91,1)" font-size="9" text-anchor="end">RF_BG</text>
<text transform="translate(695.01,91.84) scale(0.95,1)" font-size="8.5">28</text>
<text transform="translate(677.01,95.94) scale(0.91,1)" font-size="9" text-anchor="end">A_TX</text>
<text transform="translate(695.01,101.59) scale(0.95,1)" font-size="8.5">27</text>
<text transform="translate(677.01,105.69) scale(0.91,1)" font-size="9" text-anchor="end">A_RX</text>
<text transform="translate(695.01,121.09) scale(0.95,1)" font-size="8.5">14</text>
<text transform="translate(677.01,125.19) scale(0.91,1)" font-size="9" text-anchor="end">FLASH_SPI_CS</text>
<text transform="translate(695.01,130.83) scale(0.95,1)" font-size="8.5">13</text>
<text transform="translate(677.01,134.93) scale(0.91,1)" font-size="9" text-anchor="end">FLASH_SPI_DIN</text>
<text transform="translate(695.01,140.58) scale(0.95,1)" font-size="8.5">12</text>
<text transform="translate(677.01,144.68) scale(0.91,1)" font-size="9" text-anchor="end">FLASH_SPI_DOUT</text>
<text transform="translate(695.01,150.33) scale(0.95,1)" font-size="8.5">11</text>
<text transform="translate(677.01,154.43) scale(0.91,1)" font-size="9" text-anchor="end">FLASH_SPI_CLK</text>
<text transform="translate(695.01,179.57) scale(0.95,1)" font-size="8.5">50</text>
<text transform="translate(677.01,183.67) scale(0.91,1)" font-size="9" text-anchor="end">GPIO0</text>
<text transform="translate(695.01,189.32) scale(0.95,1)" font-size="8.5">55</text>
<text transform="translate(677.01,193.42) scale(0.91,1)" font-size="9" text-anchor="end">GPIO1</text>
<text transform="translate(695.01,199.07) scale(0.95,1)" font-size="8.5">57</text>
<text transform="translate(677.01,203.17) scale(0.91,1)" font-size="9" text-anchor="end">GPIO2</text>
<text transform="translate(695.01,208.82) scale(0.95,1)" font-size="8.5">58</text>
<text transform="translate(677.01,212.92) scale(0.91,1)" font-size="9" text-anchor="end">GPIO3</text>
<text transform="translate(695.01,218.57) scale(0.95,1)" font-size="8.5">59</text>
<text transform="translate(677.01,222.67) scale(0.91,1)" font-size="9" text-anchor="end">GPIO4</text>
<text transform="translate(695.01,228.31) scale(0.95,1)" font-size="8.5">60</text>
<text transform="translate(677.01,232.41) scale(0.91,1)" font-size="9" text-anchor="end">GPIO5</text>
<text transform="translate(695.01,238.06) scale(0.95,1)" font-size="8.5">61</text>
<text transform="translate(677.01,242.16) scale(0.91,1)" font-size="9" text-anchor="end">GPIO6</text>
<text transform="translate(695.01,247.81) scale(0.95,1)" font-size="8.5">62</text>
<text transform="translate(677.01,251.91) scale(0.91,1)" font-size="9" text-anchor="end">GPIO7</text>
<text transform="translate(695.01,267.31) scale(0.95,1)" font-size="8.5">63</text>
<text transform="translate(677.01,271.41) scale(0.91,1)" font-size="9" text-anchor="end">GPIO8</text>
<text transform="translate(695.01,277.05) scale(0.95,1)" font-size="8.5">64</text>
<text transform="translate(677.01,281.15) scale(0.91,1)" font-size="9" text-anchor="end">GPIO9</text>
<text transform="translate(695.01,286.8) scale(0.95,1)" font-size="8.5">1</text>
<text transform="translate(677.01,290.9) scale(0.91,1)" font-size="9" text-anchor="end">GPIO10</text>
<text transform="translate(695.01,296.55) scale(0.95,1)" font-size="8.5">2</text>
<text transform="translate(677.01,300.65) scale(0.91,1)" font-size="9" text-anchor="end">GPIO11</text>
<text transform="translate(695.01,306.3) scale(0.95,1)" font-size="8.5">3</text>
<text transform="translate(677.01,310.4) scale(0.91,1)" font-size="9" text-anchor="end">GPIO12</text>
<text transform="translate(695.01,316.05) scale(0.95,1)" font-size="8.5">4</text>
<text transform="translate(677.01,320.15) scale(0.91,1)" font-size="9" text-anchor="end">GPIO13</text>
<text transform="translate(695.01,325.79) scale(0.95,1)" font-size="8.5">5</text>
<text transform="translate(677.01,329.89) scale(0.91,1)" font-size="9" text-anchor="end">GPIO14</text>
<text transform="translate(695.01,335.54) scale(0.95,1)" font-size="8.5">6</text>
<text transform="translate(677.01,339.64) scale(0.91,1)" font-size="9" text-anchor="end">GPIO15</text>
<text transform="translate(695.01,355.04) scale(0.95,1)" font-size="8.5">7</text>
<text transform="translate(677.01,359.14) scale(0.91,1)" font-size="9" text-anchor="end">GPIO16</text>
<text transform="translate(695.01,364.79) scale(0.95,1)" font-size="8.5">8</text>
<text transform="translate(677.01,368.89) scale(0.91,1)" font-size="9" text-anchor="end">GPIO17</text>
<text transform="translate(695.01,374.53) scale(0.95,1)" font-size="8.5">15</text>
<text transform="translate(677.01,378.63) scale(0.91,1)" font-size="9" text-anchor="end">GPIO22</text>
<text transform="translate(695.01,384.28) scale(0.95,1)" font-size="8.5">18</text>
<text transform="translate(677.01,388.38) scale(0.91,1)" font-size="9" text-anchor="end">GPIO28</text>
<text transform="translate(695.01,394.03) scale(0.95,1)" font-size="8.5">53</text>
<text transform="translate(677.01,398.13) scale(0.91,1)" font-size="9" text-anchor="end">GPIO30</text>
<text transform="translate(695.01,423.27) scale(0.95,1)" font-size="8.5">51</text>
<text transform="translate(677.01,427.37) scale(0.91,1)" font-size="9" text-anchor="end">RTC_XTAL_P</text>
<text transform="translate(695.01,442.77) scale(0.95,1)" font-size="8.5">52</text>
<text transform="translate(677.01,446.87) scale(0.91,1)" font-size="9" text-anchor="end">RTC_XTAL_N</text>
<text transform="translate(695.01,472.01) scale(0.95,1)" font-size="8.5">23</text>
<text transform="translate(677.01,476.11) scale(0.91,1)" font-size="9" text-anchor="end">WLAN_XTAL_P</text>
<text transform="translate(695.01,491.51) scale(0.95,1)" font-size="8.5">22</text>
<text transform="translate(677.01,495.61) scale(0.91,1)" font-size="9" text-anchor="end">WLAN_XTAL_N</text>
<text transform="translate(695.01,520.75) scale(0.95,1)" font-size="8.5">30</text>
<text transform="translate(677.01,524.85) scale(0.91,1)" font-size="9" text-anchor="end">GND_TAB_3</text>
<text transform="translate(695.01,540.25) scale(0.95,1)" font-size="8.5">29</text>
<text transform="translate(677.01,544.35) scale(0.91,1)" font-size="9" text-anchor="end">GND_TAB_2</text>
<text transform="translate(695.01,559.75) scale(0.95,1)" font-size="8.5">65</text>
<text transform="translate(677.01,563.85) scale(0.91,1)" font-size="9" text-anchor="end">GND_TAB</text>
<text transform="translate(550.8,301.8) scale(0.91,1)" font-size="12.2">U2</text>
<text transform="translate(548.5,311.2) scale(0.91,1)" font-size="12.2">CC3235SF</text>
<text transform="translate(197.91,24.76) scale(0.93,1)" font-size="10.2" text-anchor="middle">GND</text>
<text transform="translate(275.9,24.76) scale(0.93,1)" font-size="10.2" text-anchor="middle">GND</text>
<text transform="translate(353.88,24.76) scale(0.93,1)" font-size="10.2" text-anchor="middle">GND</text>
<text transform="translate(470.86,24.76) scale(0.93,1)" font-size="10.2" text-anchor="middle">GND</text>
<text transform="translate(68.24,150.33) scale(0.95,1)" font-size="8.5" text-anchor="middle">1</text>
<text transform="translate(94.64,150.33) scale(0.95,1)" font-size="8.5" text-anchor="middle">2</text>
<text transform="translate(67.24,141.43) scale(0.93,1)" font-size="10.2">L27</text>
<text transform="translate(67.24,165.53) scale(0.93,1)" font-size="10.2">LQM2MPN2R2NG0 2µ2</text>
<text transform="translate(19.4,198.64) scale(0.93,1)" font-size="10.2">C44</text>
<text transform="translate(19.4,218.24) scale(0.93,1)" font-size="10.2">10µ</text>
<text transform="translate(48.64,198.64) scale(0.93,1)" font-size="10.2">C45</text>
<text transform="translate(48.64,218.24) scale(0.93,1)" font-size="10.2">100n</text>
<text transform="translate(12.7,278.21) scale(0.93,1)" font-size="10.2" text-anchor="middle">GND</text>
<text transform="translate(116.88,218.14) scale(0.93,1)" font-size="10.2">C77</text>
<text transform="translate(116.88,237.74) scale(0.93,1)" font-size="10.2">100n</text>
<text transform="translate(146.12,218.14) scale(0.93,1)" font-size="10.2">C78</text>
<text transform="translate(146.12,237.74) scale(0.93,1)" font-size="10.2">0p6</text>
<text transform="translate(185.12,218.14) scale(0.93,1)" font-size="10.2">C79</text>
<text transform="translate(185.12,237.74) scale(0.93,1)" font-size="10.2">100n</text>
<text transform="translate(214.36,218.14) scale(0.93,1)" font-size="10.2">C80</text>
<text transform="translate(214.36,237.74) scale(0.93,1)" font-size="10.2">0p2</text>
<text transform="translate(272.94,228.31) scale(0.95,1)" font-size="8.5" text-anchor="middle">1</text>
<text transform="translate(299.34,228.31) scale(0.95,1)" font-size="8.5" text-anchor="middle">2</text>
<text transform="translate(271.94,219.41) scale(0.93,1)" font-size="10.2">L28</text>
<text transform="translate(271.94,243.51) scale(0.93,1)" font-size="10.2">LQM2HPN1R0MG0L 1µ</text>
<text transform="translate(48.64,286.38) scale(0.93,1)" font-size="10.2">C81</text>
<text transform="translate(48.64,305.98) scale(0.93,1)" font-size="10.2">22µ</text>
<text transform="translate(77.89,286.38) scale(0.93,1)" font-size="10.2">C82</text>
<text transform="translate(77.89,305.98) scale(0.93,1)" font-size="10.2">22µ</text>
<text transform="translate(107.13,286.38) scale(0.93,1)" font-size="10.2">C84</text>
<text transform="translate(107.13,305.98) scale(0.93,1)" font-size="10.2">100n</text>
<text transform="translate(146.12,296.12) scale(0.93,1)" font-size="10.2">C83</text>
<text transform="translate(146.12,315.72) scale(0.93,1)" font-size="10.2">1µ</text>
<text transform="translate(41.94,356.19) scale(0.93,1)" font-size="10.2" text-anchor="middle">GND</text>
<text transform="translate(224.2,306.3) scale(0.95,1)" font-size="8.5" text-anchor="middle">1</text>
<text transform="translate(250.6,306.3) scale(0.95,1)" font-size="8.5" text-anchor="middle">2</text>
<text transform="translate(223.2,297.4) scale(0.93,1)" font-size="10.2">L29</text>
<text transform="translate(223.2,321.5) scale(0.93,1)" font-size="10.2">LQM2MPN2R2NG0 2µ2</text>
<text transform="translate(175.37,344.86) scale(0.93,1)" font-size="10.2">C86</text>
<text transform="translate(175.37,364.46) scale(0.93,1)" font-size="10.2">10µ</text>
<text transform="translate(204.61,344.86) scale(0.93,1)" font-size="10.2">C85</text>
<text transform="translate(204.61,364.46) scale(0.93,1)" font-size="10.2">100n</text>
<text transform="translate(233.86,344.86) scale(0.93,1)" font-size="10.2">C87</text>
<text transform="translate(233.86,364.46) scale(0.93,1)" font-size="10.2">100n</text>
<text transform="translate(263.1,344.86) scale(0.93,1)" font-size="10.2">C88</text>
<text transform="translate(263.1,364.46) scale(0.93,1)" font-size="10.2">100n</text>
<text transform="translate(168.67,404.93) scale(0.93,1)" font-size="10.2" text-anchor="middle">GND</text>
<text transform="translate(311.94,355.04) scale(0.95,1)" font-size="8.5" text-anchor="middle">1</text>
<text transform="translate(338.34,355.04) scale(0.95,1)" font-size="8.5" text-anchor="middle">2</text>
<text transform="translate(310.94,346.14) scale(0.93,1)" font-size="10.2">L30</text>
<text transform="translate(310.94,370.24) scale(0.93,1)" font-size="10.2">MLP2520S100MT0S1 10µ</text>
<text transform="translate(272.85,452.09) scale(0.93,1)" font-size="10.2">C93</text>
<text transform="translate(272.85,471.69) scale(0.93,1)" font-size="10.2">10µ</text>
<text transform="translate(302.09,452.09) scale(0.93,1)" font-size="10.2">C92</text>
<text transform="translate(302.09,471.69) scale(0.93,1)" font-size="10.2">100n</text>
<text transform="translate(331.34,452.09) scale(0.93,1)" font-size="10.2">C91</text>
<text transform="translate(331.34,471.69) scale(0.93,1)" font-size="10.2">100n</text>
<text transform="translate(295.39,512.16) scale(0.93,1)" font-size="10.2" text-anchor="middle">GND</text>
<text transform="translate(223.2,428.32) scale(0.93,1)" font-size="10.2">R39</text>
<text transform="translate(223.2,447.02) scale(0.93,1)" font-size="10.2">N.B.</text>
<text transform="translate(214.81,424.38) rotate(-90) scale(0.93,1)" font-size="10.2">+3V3</text>
<text transform="translate(350.53,495.01)" font-size="6.8" fill="#6c6e72">SOP0</text>
<text transform="translate(350.53,504.76)" font-size="6.8" fill="#6c6e72">SOP1</text>
<text transform="translate(378.22,663.68) rotate(-90) scale(0.93,1)" font-size="10.2">R42</text>
<text transform="translate(396.12,663.68) rotate(-90) scale(0.93,1)" font-size="10.2">69k8</text>
<text transform="translate(417.22,663.68) rotate(-90) scale(0.93,1)" font-size="10.2">R40</text>
<text transform="translate(435.12,663.68) rotate(-90) scale(0.93,1)" font-size="10.2">100k</text>
<text transform="translate(525.39,603.79) scale(0.93,1)" font-size="10.2">R6</text>
<text transform="translate(525.39,622.49) scale(0.93,1)" font-size="10.2">270R</text>
<text transform="translate(569.03,626.29) scale(0.93,1)" font-size="10.2">+3V3</text>
<text transform="translate(266.11,534)" font-size="6.8" fill="#6c6e72">CCJTAG_TCK</text>
<text transform="translate(265.36,543.75)" font-size="6.8" fill="#6c6e72">CCJTAG_TMS</text>
<text transform="translate(268.76,553.5)" font-size="6.8" fill="#6c6e72">CCJTAG_TDI</text>
<text transform="translate(265.36,563.25)" font-size="6.8" fill="#6c6e72">CCJTAG_TDO</text>
<text transform="translate(490.45,636.8) rotate(-90) scale(0.95,1)" font-size="8.5">2</text>
<text transform="translate(499.3,636.8) rotate(-90) scale(0.95,1)" font-size="8.5">1</text>
<text transform="translate(512.4,655) rotate(-90) scale(0.93,1)" font-size="10.2">JP1</text>
<text transform="translate(865.42,23.18) scale(0.93,1)" font-size="10.2" text-anchor="end">C3</text>
<text transform="translate(865.42,42.78) scale(0.93,1)" font-size="10.2" text-anchor="end">4p7</text>
<text transform="translate(896.72,42.68) scale(0.93,1)" font-size="10.2">C4</text>
<text transform="translate(896.72,62.28) scale(0.93,1)" font-size="10.2">4p7</text>
<text transform="translate(695.76,5.1) scale(0.93,1)" font-size="10.2" text-anchor="middle">GND</text>
<text transform="translate(797.39,20.31) rotate(-90) scale(0.93,1)" font-size="10.2">R2</text>
<text transform="translate(815.29,20.31) rotate(-90) scale(0.93,1)" font-size="10.2">0R</text>
<text transform="translate(826.63,20.31) rotate(-90) scale(0.93,1)" font-size="10.2">R1</text>
<text transform="translate(844.53,20.31) rotate(-90) scale(0.93,1)" font-size="10.2">0R</text>
<text transform="translate(805.39,67.34) rotate(-90)" font-size="6.8" fill="#6c6e72">SOP0</text>
<text transform="translate(834.63,67.34) rotate(-90)" font-size="6.8" fill="#6c6e72">SOP1</text>
<text transform="translate(933.66,13.54) scale(0.93,1)" font-size="10.2" text-anchor="end">100p</text>
<text transform="translate(964.96,3.79) scale(0.93,1)" font-size="10.2">100p</text>
<text transform="translate(958.26,54) scale(0.93,1)" font-size="10.2" text-anchor="middle">GND</text>
<text transform="translate(914.36,108.04) rotate(-90) scale(0.93,1)" font-size="10.2">R43</text>
<text transform="translate(932.26,108.04) rotate(-90) scale(0.93,1)" font-size="10.2">100k</text>
<text transform="translate(1033.64,63.7) rotate(-90) scale(0.93,1)" font-size="10.2">+3V3</text>
<text transform="translate(994.2,81.67) scale(0.93,1)" font-size="10.2">C94</text>
<text transform="translate(994.2,101.27) scale(0.93,1)" font-size="10.2">100n</text>
<text transform="translate(987.5,122.24) scale(0.93,1)" font-size="10.2" text-anchor="middle">GND</text>
<text transform="translate(885.12,215.27) rotate(-90) scale(0.93,1)" font-size="10.2">R45</text>
<text transform="translate(903.02,215.27) rotate(-90) scale(0.93,1)" font-size="10.2">100k</text>
<text transform="translate(904.62,244.51) rotate(-90) scale(0.93,1)" font-size="10.2">R44</text>
<text transform="translate(922.52,244.51) rotate(-90) scale(0.93,1)" font-size="10.2">100k</text>
<text transform="translate(1016.74,287.95) scale(0.93,1)" font-size="10.2" text-anchor="middle">GND</text>
<text transform="translate(947.3,159.98) scale(0.95,1)" font-size="8.5" text-anchor="end">1</text>
<text transform="translate(957.6,164.18) scale(0.91,1)" font-size="9">#CS</text>
<text transform="translate(947.3,169.73) scale(0.95,1)" font-size="8.5" text-anchor="end">6</text>
<text transform="translate(957.6,173.93) scale(0.91,1)" font-size="9">CLK</text>
<text transform="translate(947.3,189.22) scale(0.95,1)" font-size="8.5" text-anchor="end">5</text>
<text transform="translate(957.6,193.42) scale(0.91,1)" font-size="9">DI</text>
<text transform="translate(940,208.32) scale(0.95,1)" font-size="8.5" text-anchor="end">3</text>
<text transform="translate(957.6,212.92) scale(0.91,1)" font-size="9">#WP</text>
<text transform="translate(940,218.07) scale(0.95,1)" font-size="8.5" text-anchor="end">7</text>
<text transform="translate(957.6,222.67) scale(0.91,1)" font-size="9">#HD</text>
<text transform="translate(1039.5,189.22) scale(0.95,1)" font-size="8.5">2</text>
<text transform="translate(1027.8,193.42) scale(0.91,1)" font-size="9" text-anchor="end">DO</text>
<text transform="translate(1033.2,160.9) scale(0.93,1)" font-size="10.2" text-anchor="end">VDD</text>
<text transform="translate(1016.34,150.33) rotate(-90) scale(0.95,1)" font-size="8.5">8</text>
<text transform="translate(1033.2,226.6) scale(0.93,1)" font-size="10.2" text-anchor="end">VSS</text>
<text transform="translate(1016.14,236) rotate(-90) scale(0.95,1)" font-size="8.5">4</text>
<text transform="translate(949.6,146.6) scale(0.93,1)" font-size="10.2">IC1</text>
<text transform="translate(1026.6,239.4) scale(0.93,1)" font-size="10.2">MX25R3235FM2IL0</text>
<text transform="translate(993.9,218.3) rotate(-90) scale(0.93,1)" font-size="10.2" fill="#700000">Serial Flash</text>
<text transform="translate(1002.9,218.3) rotate(-90) scale(0.93,1)" font-size="10.2" fill="#700000">Array</text>
<text transform="translate(769.1,183.07)" font-size="6.8" fill="#6c6e72">GPIO0/2.3B</text>
<text transform="translate(778.84,192.82)" font-size="6.8" fill="#6c6e72">CC_UART_TX/2.7G</text>
<text transform="translate(778.84,202.57)" font-size="6.8" fill="#6c6e72">CC_UART_RX/2.7G</text>
<text transform="translate(769.1,212.32)" font-size="6.8" fill="#6c6e72">GPIO3/2.3C</text>
<text transform="translate(788.24,243.01) scale(0.93,1)" font-size="10.2" text-anchor="end">R14</text>
<text transform="translate(788.24,261.81) scale(0.93,1)" font-size="10.2" text-anchor="end">100k</text>
<text transform="translate(819.19,248.91) rotate(-90) scale(0.93,1)" font-size="10.2">+3V3</text>
<text transform="translate(788.59,309.8)" font-size="6.8" fill="#6c6e72">CC_I2C_SCL/2.14D</text>
<text transform="translate(788.59,319.55)" font-size="6.8" fill="#6c6e72">CC_I2C_SDA/2.14E</text>
<text transform="translate(778.84,329.29)" font-size="6.8" fill="#6c6e72">CC_SPI_CLK/2.6C</text>
<text transform="translate(778.84,339.04)" font-size="6.8" fill="#6c6e72">CC_SPI_MISO/2.3F</text>
<text transform="translate(778.84,358.54)" font-size="6.8" fill="#6c6e72">CC_SPI_MOSI/2.3E</text>
<text transform="translate(778.84,368.29)" font-size="6.8" fill="#6c6e72">CC_SPI_CS/2.6B</text>
<text transform="translate(1111.18,481.34) scale(0.93,1)" font-size="10.2">C11</text>
<text transform="translate(1111.18,500.94) scale(0.93,1)" font-size="10.2">6p8</text>
<text transform="translate(1104.48,531.65) scale(0.93,1)" font-size="10.2" text-anchor="middle">GND</text>
<text transform="translate(994.2,481.34) scale(0.93,1)" font-size="10.2">C10</text>
<text transform="translate(994.2,500.94) scale(0.93,1)" font-size="10.2">6p8</text>
<text transform="translate(987.5,531.65) scale(0.93,1)" font-size="10.2" text-anchor="middle">GND</text>
<text transform="translate(1003.45,442.17)" font-size="7.5" text-anchor="middle">1</text>
<text transform="translate(1050.64,442.17)" font-size="7.5" text-anchor="middle">2</text>
<text transform="translate(1021.85,446.67) scale(0.95,1)" font-size="8.5" text-anchor="end">1</text>
<text transform="translate(1032.05,446.67) scale(0.95,1)" font-size="8.5">2</text>
<text transform="translate(1012.3,434.8) scale(0.93,1)" font-size="10.2">Y1</text>
<text transform="translate(1012.5,458.9) scale(0.93,1)" font-size="10.2">ABS07-32.768KHZ-T</text>
<text transform="translate(896.72,530.08) scale(0.93,1)" font-size="10.2">C13</text>
<text transform="translate(896.72,549.68) scale(0.93,1)" font-size="10.2">6p8</text>
<text transform="translate(890.02,580.39) scale(0.93,1)" font-size="10.2" text-anchor="middle">GND</text>
<text transform="translate(750.5,530.08) scale(0.93,1)" font-size="10.2">C12</text>
<text transform="translate(750.5,549.68) scale(0.93,1)" font-size="10.2">6p8</text>
<text transform="translate(760.05,490.91)" font-size="7.5" text-anchor="middle">1</text>
<text transform="translate(806.94,490.91)" font-size="7.5" text-anchor="middle">3</text>
<text transform="translate(777.89,495.41) scale(0.95,1)" font-size="8.5" text-anchor="end">1</text>
<text transform="translate(788.69,495.41) scale(0.95,1)" font-size="8.5">2</text>
<text transform="translate(786.49,513) rotate(-90)" font-size="7">G</text>
<text transform="translate(782.09,535) rotate(-90) scale(0.95,1)" font-size="8.5">2,4</text>
<text transform="translate(797.8,508.2) scale(0.93,1)" font-size="10.2">Y2</text>
<text transform="translate(797.8,516.6) scale(0.93,1)" font-size="10.2">40 Mhz 10 ppm 10pf</text>
<text transform="translate(714.56,609.64) scale(0.93,1)" font-size="10.2" text-anchor="middle">GND</text>
<text transform="translate(834.63,671.62) rotate(-90)" font-size="6.8" fill="#6c6e72">+1V8/2.2B</text>
<text transform="translate(926.42,687.57) rotate(-90) scale(0.93,1)" font-size="10.2">+3V3</text>
</g>
</g></svg>
</body></html>
